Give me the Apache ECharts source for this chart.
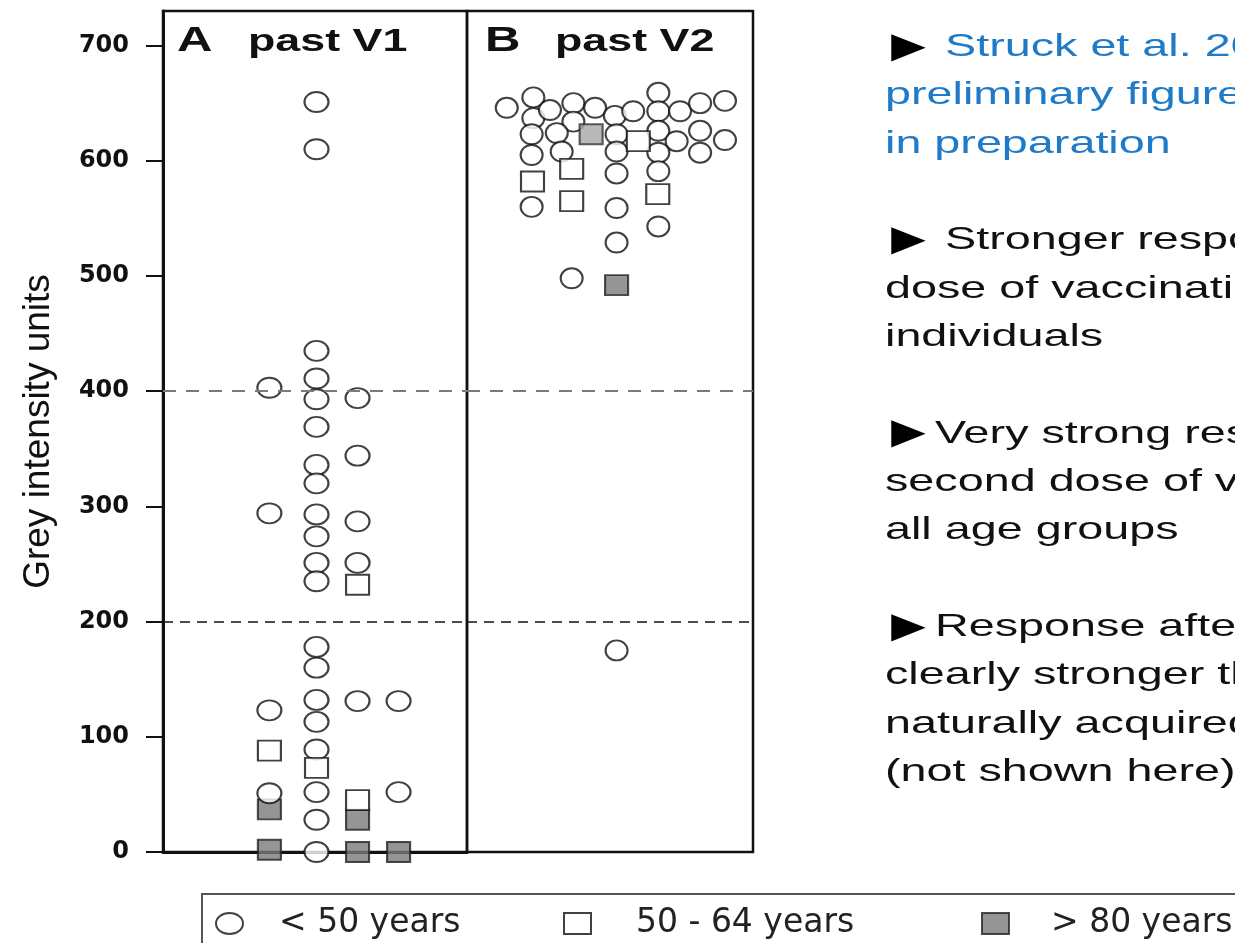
<!DOCTYPE html>
<html><head><meta charset="utf-8">
<script src="https://cdn.jsdelivr.net/npm/echarts@6/dist/echarts.min.js"></script>
<style>html,body{margin:0;padding:0;background:#fff}#chart{width:1235px;height:943px}</style>
</head><body><div id="chart"></div>
<script>
// ---- data ----
const yTicks = [0, 100, 200, 300, 400, 500, 600, 700];
const refLines = [400, 200];
const ageGroups = ['< 50 years', '50 - 64 years', '> 80 years'];
const panelTitles = [['A', 'past V1'], ['B', 'past V2']];
const yName = 'Grey intensity units';

// Panel A: past V1 (x = position within panel, 0-100)
const aCircleX = [35, 35, 35, 35,
  50.5, 50.5, 50.5, 50.5, 50.5, 50.5, 50.5, 50.5, 50.5, 50.5, 50.5, 50.5, 50.5, 50.5, 50.5, 50.5, 50.5, 50.5, 50.5, 50.5,
  64, 64, 64, 64, 64, 77.5, 77.5];
const aCircleY = [403, 294, 123, 51,
  651, 610, 435, 411, 393, 369, 336, 320, 293, 274, 251, 235, 178, 160, 132, 113, 89, 52, 28, 0,
  394, 344, 287, 251, 131, 131, 52];
const aSquareX = [35, 50.5, 64, 64];
const aSquareY = [88, 73, 232, 45];
const aDarkX = [35, 35, 64, 64, 77.5];
const aDarkY = [37, 2, 28, 0, 0];

// Panel B: past V2
const bCircleX = [13.9, 23.2, 23.2, 29.0, 37.2, 44.8, 51.7, 58.1, 66.9, 66.9,
  74.5, 81.5, 90.2, 37.2, 22.6, 31.4, 52.3, 66.9, 73.3, 81.5,
  90.2, 22.6, 33.1, 52.3, 66.9, 81.5, 52.3, 66.9, 22.6, 52.3,
  52.3, 66.9, 36.6, 52.3];
const bCircleY = [646, 655, 637, 644, 650, 646, 639, 643, 659, 643,
  643, 650, 652, 634, 623, 624, 623, 626, 617, 626,
  618, 605, 608, 608, 607, 607, 589, 591, 560, 559,
  529, 543, 498, 175];
const bSquareX = [22.9, 36.6, 36.6, 59.9, 66.7];
const bSquareY = [582, 593, 565, 617, 571];
const bGreyX = [43.4];
const bGreyY = [623];
const bDarkX = [52.3];
const bDarkY = [492];

const noteBlocks = [
  ['Struck et al. 2021', 'preliminary figure', 'in preparation'],
  ['Stronger response', 'dose of vaccination', 'individuals'],
  ['Very strong response', 'second dose of vaccination', 'all age groups'],
  ['Response after', 'clearly stronger than', 'naturally acquired', '(not shown here)']
];

// ---- chart ----
const pts = (xs, ys) => xs.map((x, i) => [x, ys[i]]);
const ELLIPSE = 'path://M0,10.5A13.5,10.5,0,1,1,27,10.5A13.5,10.5,0,1,1,0,10.5Z';
const styleWhite = { color: '#ffffff', borderColor: '#111', borderWidth: 2 };
const styleDark = { color: '#7b7b7b', borderColor: '#222', borderWidth: 2 };
const styleGrey = { color: '#a8a8a8', borderColor: '#333', borderWidth: 2 };

function refMarkLine() {
  return {
    silent: true, symbol: 'none', label: { show: false }, animation: false,
    data: [
      { yAxis: refLines[0], lineStyle: { color: '#7a7a7a', width: 2, type: [13, 10] } },
      { yAxis: refLines[1], lineStyle: { color: '#111', width: 1.5, type: [10, 7] } }
    ]
  };
}
function sc(name, axis, data, symbol, size, style, extra) {
  return Object.assign({
    type: 'scatter', name, xAxisIndex: axis, yAxisIndex: axis, data,
    symbol, symbolSize: size, itemStyle: style, emphasis: { disabled: true }
  }, extra || {});
}

const series = [
  sc(ageGroups[2], 0, pts(aDarkX, aDarkY), 'rect', [23, 20], styleDark),
  sc(ageGroups[0], 0, pts(aCircleX, aCircleY), ELLIPSE, [24, 20], styleWhite, { markLine: refMarkLine() }),
  sc(ageGroups[1], 0, pts(aSquareX, aSquareY), 'rect', [23, 20], styleWhite),
  sc(ageGroups[2], 1, pts(bDarkX, bDarkY), 'rect', [23, 20], styleDark),
  sc(ageGroups[0], 1, pts(bCircleX, bCircleY), ELLIPSE, [22, 20], styleWhite, { markLine: refMarkLine() }),
  sc(ageGroups[1], 1, pts(bSquareX, bSquareY), 'rect', [23, 20], styleWhite),
  sc(ageGroups[2], 1, pts(bGreyX, bGreyY), 'rect', [23, 20], styleGrey)
];

// annotation texts
const graphic = [
  { type: 'rect', x: 202, y: 894, shape: { width: 1100, height: 120 }, style: { fill: 'none', stroke: '#555', lineWidth: 2 }, silent: true }
];
const panelX = [[177, 248], [485, 555]];
panelTitles.forEach((pt, i) => {
  graphic.push({ type: 'text', x: panelX[i][0], y: 41, scaleX: 1.4,
    style: { text: pt[0], fontFamily: 'Liberation Sans', fontWeight: 'bold', fontSize: 35, fill: '#111', align: 'left', verticalAlign: 'middle' } });
  graphic.push({ type: 'text', x: panelX[i][1], y: 42, scaleX: 1.4,
    style: { text: pt[1], fontFamily: 'Liberation Sans', fontWeight: 'bold', fontSize: 32, fill: '#111', align: 'left', verticalAlign: 'middle' } });
});
let row = 0;
noteBlocks.forEach((block, bi) => {
  block.forEach((line, li) => {
    const y = 58 + row * 48.35 - 11;
    const color = bi === 0 ? '#1f7ac8' : '#111';
    if (li === 0) {
      graphic.push({ type: 'text', x: 880, y: y + 1, scaleX: 1.25,
        style: { text: '►', fontFamily: 'Liberation Sans', fontSize: 46, fill: '#000', align: 'left', verticalAlign: 'middle' } });
    }
    const x = li === 0 ? (bi < 2 ? 945 : 935) : 885;
    graphic.push({ type: 'text', x, y, scaleX: 1.46,
      style: { text: line, fontFamily: 'Liberation Sans', fontSize: 32, fill: color, align: 'left', verticalAlign: 'middle' } });
    row++;
  });
  row++;
});

const legendBase = {
  top: 907, padding: 0, itemWidth: 27, itemHeight: 21, selectedMode: false,
  textStyle: { fontFamily: 'DejaVu Sans', fontSize: 33, color: '#222' }
};
const legendLeft = [215, 563, 981];
const legendPad = [31, 40, 37];
const legendIcons = [ELLIPSE, 'rect', 'rect'];
const legend = ageGroups.map((g, i) => Object.assign({}, legendBase, {
  left: legendLeft[i],
  data: [{ name: g, icon: legendIcons[i] }],
  textStyle: Object.assign({}, legendBase.textStyle, { padding: [0, 0, 0, legendPad[i]] })
}));

const option = {
  animation: false,
  backgroundColor: '#fff',
  grid: [
    { left: 163, top: 11, width: 304, bottom: 91, show: true, borderColor: '#111', borderWidth: 2.5, backgroundColor: 'transparent' },
    { left: 467, top: 11, width: 286, bottom: 91, show: true, borderColor: '#111', borderWidth: 2.5, backgroundColor: 'transparent' }
  ],
  xAxis: [
    { gridIndex: 0, type: 'value', min: 0, max: 100, axisLine: { show: true, lineStyle: { color: '#111', width: 3 } },
      axisTick: { show: false }, axisLabel: { show: false }, splitLine: { show: false } },
    { gridIndex: 1, type: 'value', min: 0, max: 100, show: false, splitLine: { show: false } }
  ],
  yAxis: [
    { gridIndex: 0, type: 'value', min: 0, max: 730,
      name: yName, nameLocation: 'middle', nameGap: 106,
      nameTextStyle: { fontFamily: 'Liberation Sans', fontSize: 37, color: '#111' },
      axisLine: { show: true, lineStyle: { color: '#111', width: 3 } },
      axisTick: { show: true, length: 17, lineStyle: { color: '#111', width: 2 }, customValues: yTicks },
      axisLabel: { customValues: yTicks, fontFamily: 'DejaVu Sans', fontWeight: 'bold', fontSize: 24, color: '#111', margin: 34 },
      splitLine: { show: false } },
    { gridIndex: 1, type: 'value', min: 0, max: 730, show: false, splitLine: { show: false } }
  ],
  legend,
  graphic,
  series
};
const chart = echarts.init(document.getElementById('chart'), null, { renderer: 'canvas' });
chart.setOption(option);
</script></body></html>
